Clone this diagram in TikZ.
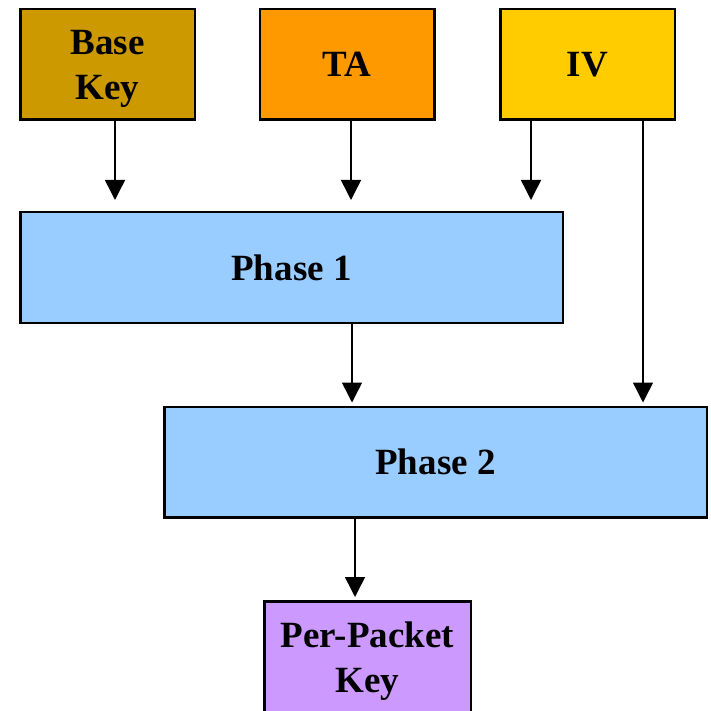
\documentclass[tikz,border=0pt]{standalone}
\usepackage{fontspec}
\setmainfont{Liberation Serif}
\usetikzlibrary{arrows.meta}
\definecolor{basekey}{HTML}{CC9900}
\definecolor{tacol}{HTML}{FF9900}
\definecolor{ivcol}{HTML}{FFCC00}
\definecolor{phasecol}{HTML}{99CCFF}
\definecolor{ppkcol}{HTML}{CC99FF}
\begin{document}
\begin{tikzpicture}[x=1pt,y=-1pt,
  box/.style={draw=black, line width=2.5pt, inner sep=0pt, align=center,
    font=\fontsize{37}{45}\selectfont\bfseries},
  twoline/.style={text height=80pt, text depth=9pt},
  keybox/.style={box, minimum width=174.5pt, minimum height=110.5pt},
  phasebox/.style={box, fill=phasecol, minimum width=542.5pt, minimum height=110.5pt},
  arr/.style={line width=1.5pt, -{Triangle[width=20pt,length=20pt]}},
  longgap/.style={shorten >=11pt},
  shortgap/.style={shorten >=3pt}]
\useasboundingbox (0,0) rectangle (710,711);
\clip (0,0) rectangle (710,711);
\node[keybox, twoline, fill=basekey] (bk) at (107.5,64.5) {Base\\Key};
\node[keybox, fill=tacol] (ta) at (347,64.5) {TA};
\node[keybox, fill=ivcol] (iv) at (587.5,64.5) {IV};
\node[phasebox] (p1) at (291.5,267.5) {Phase 1};
\node[phasebox] (p2) at (435.5,462) {Phase 2};
\node[box, twoline, fill=ppkcol, minimum width=206.5pt, minimum height=110.5pt] (ppk) at (367.5,656.5) {Per-Packet\\Key};
\draw[arr, longgap] ([xshift=7.5pt]bk.south) -- ([xshift=7.5pt]bk.south |- p1.north);
\draw[arr, longgap] ([xshift=4pt]ta.south) -- ([xshift=4pt]ta.south |- p1.north);
\draw[arr, longgap] ([xshift=-56.5pt]iv.south) -- ([xshift=-56.5pt]iv.south |- p1.north);
\draw[arr, shortgap] ([xshift=55.5pt]iv.south) -- ([xshift=55.5pt]iv.south |- p2.north);
\draw[arr, shortgap] ([xshift=60.5pt]p1.south) -- ([xshift=60.5pt]p1.south |- p2.north);
\draw[arr, shortgap] ([xshift=-80.5pt]p2.south) -- ([xshift=-80.5pt]p2.south |- ppk.north);
\end{tikzpicture}
\end{document}
